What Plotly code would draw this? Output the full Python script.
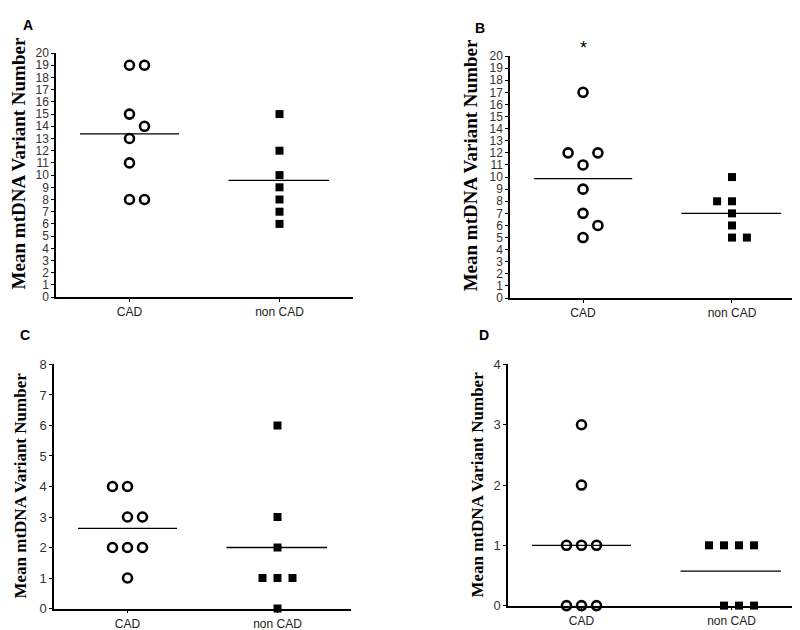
import plotly.graph_objects as go

categories = ["CAD", "non CAD"]

# Panel A
a_cad = [19, 19, 15, 14, 13, 11, 8, 8]
a_cad_jit = [0, 1, 0, 1, 0, 0, 0, 1]
a_non = [15, 12, 10, 9, 8, 7, 6]
a_non_jit = [0, 0, 0, 0, 0, 0, 0]
# Panel B
b_cad = [17, 12, 12, 11, 9, 7, 6, 5]
b_cad_jit = [0, -1, 1, 0, 0, 0, 1, 0]
b_non = [10, 8, 8, 7, 6, 5, 5]
b_non_jit = [0, -1, 0, 0, 0, 0, 1]
# Panel C
c_cad = [4, 4, 3, 3, 2, 2, 2, 1]
c_cad_jit = [-1, 0, 0, 1, -1, 0, 1, 0]
c_non = [6, 3, 2, 1, 1, 1, 0]
c_non_jit = [0, 0, 0, -1, 0, 1, 0]
# Panel D
d_cad = [3, 2, 1, 1, 1, 0, 0, 0]
d_cad_jit = [0, 0, -1, 0, 1, -1, 0, 1]
d_non = [1, 1, 1, 1, 0, 0, 0]
d_non_jit = [-1.5, -0.5, 0.5, 1.5, -0.5, 0.5, 1.5]

panels = [
    ("A", a_cad, a_cad_jit, a_non, a_non_jit, 20),
    ("B", b_cad, b_cad_jit, b_non, b_non_jit, 20),
    ("C", c_cad, c_cad_jit, c_non, c_non_jit, 8),
    ("D", d_cad, d_cad_jit, d_non, d_non_jit, 4),
]

W, H = 800, 630
# pixel boxes: (x0, x1, y_top, y_bottom)
boxes = {
    "A": (48, 345, 39, 289),
    "B": (502, 797, 42, 290),
    "C": (46, 343, 358, 608),
    "D": (500, 797, 358, 605),
}
letter_pos = {"A": (20, 10), "B": (472, 13), "C": (17, 328), "D": (476, 328)}
title_pos = {"A": (10, 152), "B": (462, 154), "C": (13, 482), "D": (470, 481)}
title_size = {"A": 19, "B": 19, "C": 17, "D": 17}
ytick_size = {"A": 12, "B": 12, "C": 13, "D": 13}

STEP = 0.1  # jitter step in category units

fig = go.Figure()
layout = dict(
    width=W, height=H, margin=dict(l=0, r=0, t=0, b=0),
    plot_bgcolor="white", paper_bgcolor="white", showlegend=False,
    annotations=[],
)

for i, (name, cad, cadj, non, nonj, ymax) in enumerate(panels):
    idx = "" if i == 0 else str(i + 1)
    xa, ya = "x" + idx, "y" + idx
    x0, x1, yt, yb = boxes[name]
    xdom = [x0 / W, x1 / W]
    ydom = [1 - yb / H, 1 - yt / H]

    m1 = sum(cad) / len(cad)
    m2 = sum(non) / len(non)
    fig.add_trace(go.Scatter(x=[0.67, 1.33], y=[m1, m1], mode="lines", xaxis=xa, yaxis=ya,
                             line=dict(color="black", width=1.3), cliponaxis=False))
    fig.add_trace(go.Scatter(x=[1.66, 2.33], y=[m2, m2], mode="lines", xaxis=xa, yaxis=ya,
                             line=dict(color="black", width=1.3), cliponaxis=False))
    fig.add_trace(go.Scatter(
        x=[1 + j * STEP for j in cadj], y=cad, mode="markers", xaxis=xa, yaxis=ya,
        marker=dict(symbol="circle-open", size=9, color="black", line=dict(width=2.6, color="black")),
        cliponaxis=False,
    ))
    fig.add_trace(go.Scatter(
        x=[2 + j * STEP for j in nonj], y=non, mode="markers", xaxis=xa, yaxis=ya,
        marker=dict(symbol="square", size=8, color="black"),
        cliponaxis=False,
    ))
    if name == "B":
        # significance marker above the CAD column (just above the axis top)
        layout["annotations"].append(dict(
            text="*", x=1, xref=xa, y=ydom[1] + 8 / H, yref="paper", showarrow=False,
            xanchor="center", yanchor="middle",
            font=dict(family="Arial", size=18, color="black"),
        ))

    layout["xaxis" + idx] = dict(
        domain=xdom, anchor=ya, range=[0.51, 2.49],
        tickvals=[1, 2], ticktext=categories, showgrid=False, zeroline=False,
        showline=True, linecolor="black", linewidth=1.5,
        ticks="outside", ticklen=3, tickcolor="black",
        tickfont=dict(family="Arial", size=12, color="#222"),
    )
    layout["yaxis" + idx] = dict(
        domain=ydom, anchor=xa, range=[0, ymax], dtick=1,
        showgrid=False, zeroline=False,
        showline=True, linecolor="black", linewidth=1.5,
        ticks="outside", ticklen=3, tickcolor="black",
        tickfont=dict(family="Arial", size=ytick_size[name], color="#333"),
    )
    tx, ty = title_pos[name]
    layout["annotations"].append(dict(
        text="<b>Mean mtDNA Variant Number</b>", textangle=-90,
        x=tx / W, y=1 - ty / H, xref="paper", yref="paper",
        xanchor="center", yanchor="middle", showarrow=False,
        font=dict(family="Liberation Serif, Times New Roman", size=title_size[name], color="black"),
    ))
    lx, ly = letter_pos[name]
    layout["annotations"].append(dict(
        text="<b>" + name + "</b>", x=lx / W, y=1 - ly / H, xref="paper", yref="paper",
        xanchor="center", yanchor="middle", showarrow=False,
        font=dict(family="Arial", size=14, color="black"),
    ))

fig.update_layout(**layout)
fig.write_html("out.html")
